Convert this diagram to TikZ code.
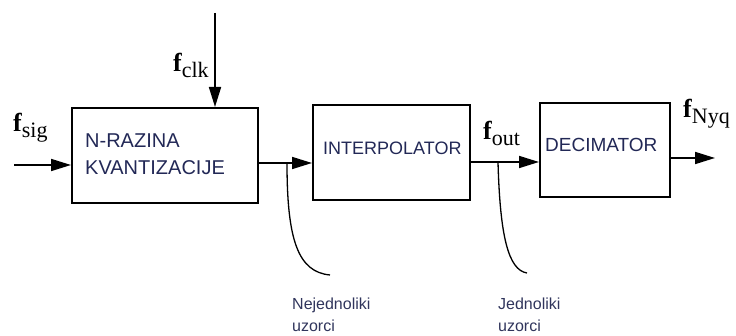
\documentclass[tikz,border=0pt]{standalone}
\usepackage{fontspec}
\setmainfont{Liberation Serif}
\newfontfamily\arialf{Liberation Sans}
\usetikzlibrary{arrows.meta}
\definecolor{txtblue}{RGB}{34,40,86}
\tikzset{
  blk/.style={draw, line width=2pt, minimum width=#1, inner sep=0pt},
  conn/.style={line width=1.7pt, -{Triangle[length=20pt,width=12pt]}},
  lead/.style={line width=1.3pt},
  boxtxt/.style={anchor=base west, inner sep=0pt, text=txtblue, font=\arialf\fontsize{#1}{#1}\selectfont},
  notetxt/.style={anchor=base west, inner sep=0pt, text=txtblue!85!gray, font=\arialf\fontsize{16}{16}\selectfont},
  mlab/.style={anchor=base west, inner sep=0pt, font=\bfseries\fontsize{26}{26}\selectfont},
}
\newcommand{\subtx}[1]{\raisebox{-6pt}{\mdseries\fontsize{22}{22}\selectfont #1}}
\begin{document}
\begin{tikzpicture}[x=1pt,y=-1pt]
\useasboundingbox (0,0) rectangle (736,336);
% blocks
\node[blk=186pt, minimum height=95pt] (b1) at (165,155.5) {};
\node[blk=157pt, minimum height=95pt] (b2) at (391.5,152.5) {};
\node[blk=130pt, minimum height=94pt] (b3) at (605,150) {};
% block texts
\node[boxtxt=20] (t1a) at (85,148) {N-RAZINA};
\node[boxtxt=20] (t1b) at (85,175) {KVANTIZACIJE};
\node[boxtxt=18] (t2) at (323,155) {INTERPOLATOR};
\node[boxtxt=19] (t3) at (545,152) {DECIMATOR};
% coordinates
\coordinate (in) at (14,165);
\coordinate (clk) at (215,13);
\coordinate (o1) at (258,163);
\coordinate (o2) at (470,162);
\coordinate (o3) at (670,158);
\coordinate (out) at (715,158);
\coordinate (j1) at (287,163);
\coordinate (j2) at (498,162);
\coordinate (e1) at (330,275);
\coordinate (e2) at (527,273);
% connectors
\draw[conn] (in) -- (b1.west |- in);
\draw[conn] (clk) -- (clk |- b1.north);
\draw[conn] (b1.east |- o1) -- (b2.west |- o1);
\draw[conn] (b2.east |- o2) -- (b3.west |- o2);
\draw[conn] (b3.east |- o3) -- (out);
% leader curves
\draw[lead] (j1) .. controls (287,240) and (298,272) .. (e1);
\draw[lead] (j2) .. controls (500,235) and (508,270) .. (e2);
% signal labels
\node[mlab] (fsig) at (13,132) {f\subtx{sig}};
\node[mlab] (fclk) at (173,72) {f\subtx{clk}};
\node[mlab] (fout) at (483,140) {f\subtx{out}};
\node[mlab] (fnyq) at (683,118) {f\subtx{Nyq}};
% notes
\node[notetxt] (n1a) at (292,310) {Nejednoliki};
\node[notetxt] (n1b) at (292,332) {uzorci};
\node[notetxt] (n2a) at (498,310) {Jednoliki};
\node[notetxt] (n2b) at (498,332) {uzorci};
\end{tikzpicture}
\end{document}
